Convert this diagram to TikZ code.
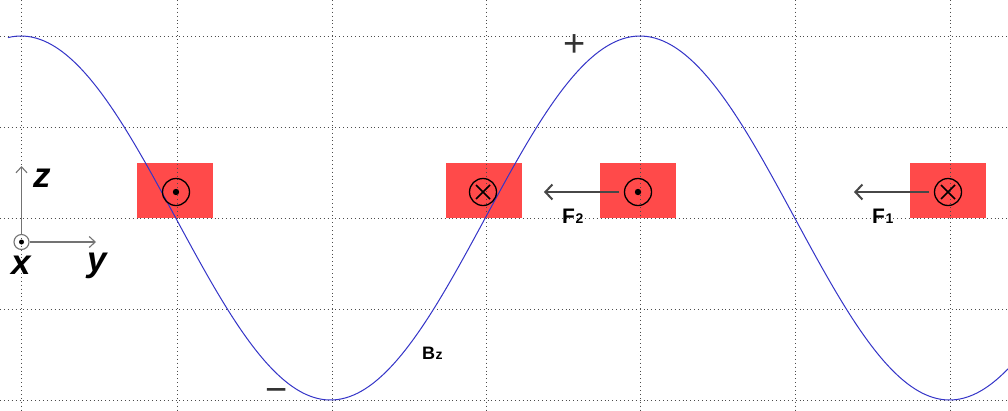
\documentclass[tikz,border=0pt]{standalone}
\usepackage{fontspec}
\setmainfont{Liberation Sans}
\usetikzlibrary{arrows.meta}
\definecolor{boxred}{RGB}{255,74,74}
\definecolor{curveblue}{RGB}{52,52,200}
\begin{document}
\begin{tikzpicture}[x=1pt,y=-1pt,
  gridline/.style={black!70, line width=0.9pt, dash pattern=on 0.9pt off 3pt},
  conductor/.style={fill=boxred, draw=none, minimum width=76pt, minimum height=55pt, inner sep=0},
  ring/.style={circle, draw=black, line width=1.3pt, minimum size=27pt, inner sep=0},
  force/.style={draw=black!72, line width=2pt, -{Straight Barb[length=7pt,width=15pt,line width=2pt]}},
  axarrow/.style={draw=black!55, line width=1.1pt, -{Straight Barb[length=6pt,width=11pt]}},
  lbl/.style={font=\fontsize{21}{23}\selectfont\bfseries, inner sep=0},
  ax/.style={font=\fontsize{35}{37}\selectfont\bfseries\itshape, inner sep=0},
  sign/.style={font=\fontsize{38}{40}\selectfont, text=black!80, inner sep=0}]
\useasboundingbox (0,0) rectangle (1008,410);
\fill[white] (0,0) rectangle (1008,410);
% conductors
\node[conductor] (b1) at (175,190.5) {};
\node[conductor] (b2) at (484,190.5) {};
\node[conductor] (b3) at (638,190.5) {};
\node[conductor] (b4) at (948,190.5) {};
% grid
\foreach \gx in {21,177,332,486,640,795,950}
  \draw[gridline] (\gx,0) -- (\gx,410);
\foreach \gy in {36,127,218,309,400}
  \draw[gridline] (0,\gy) -- (1008,\gy);
% field curve
\draw[curveblue, line width=1pt] plot[domain=8:1008, samples=250, smooth]
  (\x, {218-182*cos(0.581583*(\x-21))});
% current symbols
\node[ring] (c1) at (176,192) {};
\fill (c1.center) circle (3.2pt);
\node[ring] (c2) at (483,192) {};
\draw[line width=1.6pt] ([shift={(-7,-7)}]c2.center) -- ([shift={(7,7)}]c2.center)
  ([shift={(-7,7)}]c2.center) -- ([shift={(7,-7)}]c2.center);
\node[ring] (c3) at (638,192) {};
\fill (c3.center) circle (3.2pt);
\node[ring] (c4) at (948,192) {};
\draw[line width=1.6pt] ([shift={(-7,-7)}]c4.center) -- ([shift={(7,7)}]c4.center)
  ([shift={(-7,7)}]c4.center) -- ([shift={(7,-7)}]c4.center);
% forces
\coordinate (f2tip) at (544,192);
\coordinate (f1tip) at (854,192);
\draw[force] ([xshift=-5pt]c3.west) -- (f2tip);
\draw[force] ([xshift=-5pt]c4.west) -- (f1tip);
\node[lbl, anchor=base west] (F2) at (562,223) {F\kern0.5pt{\fontsize{14}{15}\selectfont 2}};
\node[lbl, anchor=base west] (F1) at (872,223) {F\kern0.5pt{\fontsize{14}{15}\selectfont 1}};
\node[lbl, anchor=base west, font=\fontsize{18}{20}\selectfont\bfseries] (Bz) at (422,359) {B\kern0.5pt{\fontsize{14}{15}\selectfont z}};
% signs
\node[sign] (plus) at (575,46) {+};
\node[sign] (minus) at (277,395) {−};
% axes
\node[circle, draw=black!55, line width=1.1pt, minimum size=15pt, inner sep=0] (o) at (21.5,242) {};
\fill (o.center) circle (2.5pt);
\coordinate (ztip) at (21.5,166);
\coordinate (ytip) at (96,242);
\draw[axarrow] (o.north) -- (ztip);
\draw[axarrow] (o.east) -- (ytip);
\node[ax] (zl) at (42,178.5) {z};
\node[ax] (xl) at (21,265) {x};
\node[ax] (yl) at (97,266) {y};
\end{tikzpicture}
\end{document}
